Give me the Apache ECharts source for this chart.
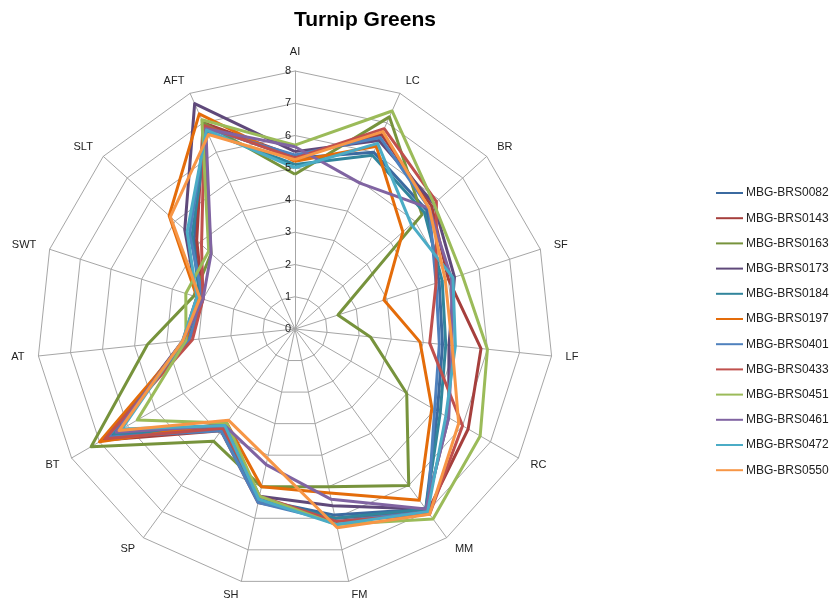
<!DOCTYPE html>
<html>
<head>
<meta charset="utf-8">
<script src="https://cdn.jsdelivr.net/npm/echarts@6/dist/echarts.min.js"></script>
<style>
  html, body { margin: 0; padding: 0; background: #fff; }
  #turnipRadar { width: 834px; height: 607px; }
</style>
</head>
<body>
<div id="turnipRadar"></div>
<script>
// traits, clockwise from the top
const traits = ['AI', 'LC', 'BR', 'SF', 'LF', 'RC', 'MM', 'FM', 'SH', 'SP', 'BT', 'AT', 'SWT', 'SLT', 'AFT'];
const ticks = [0, 1, 2, 3, 4, 5, 6, 7, 8];

const accessions = ['MBG-BRS0082', 'MBG-BRS0143', 'MBG-BRS0163', 'MBG-BRS0173', 'MBG-BRS0184', 'MBG-BRS0197',
  'MBG-BRS0401', 'MBG-BRS0433', 'MBG-BRS0451', 'MBG-BRS0461', 'MBG-BRS0472', 'MBG-BRS0550'];

// scores per accession, same order as traits
const brs0082 = [5.3, 6.0, 5.5, 4.7, 4.6, 5.1, 6.9, 5.9, 5.4, 3.8, 6.6, 3.4, 3.1, 4.2, 6.9];
const brs0143 = [5.35, 6.6, 5.7, 5.0, 5.8, 6.2, 7.0, 6.0, 5.5, 3.9, 6.9, 3.3, 3.0, 4.1, 7.0];
const brs0163 = [4.8, 7.2, 5.3, 1.4, 2.35, 4.0, 6.0, 5.0, 5.0, 4.3, 7.3, 4.6, 3.3, 3.5, 7.0];
const brs0173 = [5.5, 6.4, 5.8, 5.2, 4.8, 5.5, 6.9, 5.6, 5.3, 3.7, 6.6, 3.5, 3.2, 4.6, 7.65];
const brs0184 = [5.1, 5.9, 5.4, 4.8, 4.7, 5.2, 6.9, 6.0, 5.4, 3.8, 6.5, 3.4, 3.1, 4.3, 6.7];
const brs0197 = [5.2, 6.2, 4.5, 2.9, 3.9, 4.9, 6.56, 5.2, 5.0, 3.6, 7.0, 3.4, 3.2, 5.25, 7.3];
const brs0401 = [5.4, 6.5, 5.6, 4.6, 4.5, 5.0, 7.0, 6.1, 5.5, 3.9, 6.7, 3.3, 3.0, 4.4, 6.8];
const brs0433 = [5.3, 6.8, 5.9, 4.6, 4.2, 6.0, 7.1, 6.1, 5.3, 3.8, 6.8, 3.2, 3.0, 3.9, 6.9];
const brs0451 = [5.7, 7.4, 5.8, 5.45, 6.0, 6.63, 7.28, 6.2, 5.3, 3.6, 5.65, 3.4, 3.56, 3.6, 7.1];
const brs0461 = [5.65, 4.95, 5.6, 5.1, 4.9, 5.5, 6.9, 5.4, 4.3, 3.7, 6.4, 3.5, 3.0, 3.5, 6.8];
const brs0472 = [5.0, 6.3, 4.85, 5.15, 5.0, 5.4, 7.0, 6.2, 5.4, 3.7, 6.2, 3.5, 3.2, 4.5, 6.75];
const brs0550 = [5.25, 6.7, 5.6, 4.9, 4.9, 5.86, 7.1, 6.3, 4.1, 3.5, 6.3, 3.5, 3.1, 5.2, 6.6];

const scores = [brs0082, brs0143, brs0163, brs0173, brs0184, brs0197,
  brs0401, brs0433, brs0451, brs0461, brs0472, brs0550];
const colors = ['#3b6aa0', '#a63f3c', '#77933c', '#5f497a', '#31859c', '#e46c0a',
  '#4f81bd', '#c0504d', '#9bbb59', '#8064a2', '#4bacc6', '#f79646'];

// echarts lays indicators out counter-clockwise, so flip everything after the first one
const flip = arr => [arr[0]].concat(arr.slice(1).reverse());

const center = [295, 329];
const radius = 258;
const fontFamily = '"Liberation Sans", "DejaVu Sans", sans-serif';

let option = {
  backgroundColor: '#ffffff',
  color: colors,
  title: {
    text: 'Turnip Greens',
    left: 360,
    top: 5,
    textAlign: 'center',
    textStyle: {fontFamily: fontFamily, fontSize: 21, fontWeight: 'bold', color: '#000000'}
  },
  legend: {
    data: accessions,
    orient: 'vertical',
    left: 711,
    top: 181,
    itemGap: 11.2,
    itemWidth: 27,
    itemHeight: 2,
    icon: 'rect',
    textStyle: {fontFamily: fontFamily, fontSize: 12, color: '#222222', lineHeight: 14, padding: [0, 0, 0, -2]}
  },
  radar: {
    center: center,
    radius: radius,
    startAngle: 90,
    shape: 'polygon',
    splitNumber: 8,
    nameGap: 14,
    indicator: flip(traits).map(t => ({name: t, min: 0, max: 8})),
    axisName: {fontFamily: fontFamily, fontSize: 11, color: '#222222'},
    axisLine: {lineStyle: {color: '#a6a6a6', width: 1}},
    splitLine: {lineStyle: {color: '#a6a6a6', width: 1}},
    splitArea: {show: false}
  },
  polar: {center: center, radius: radius},
  angleAxis: {show: false, startAngle: 90, min: 0, max: 360},
  radiusAxis: {
    min: ticks[0],
    max: ticks[ticks.length - 1],
    interval: 1,
    axisLine: {show: false},
    axisTick: {show: false},
    splitLine: {show: false},
    axisLabel: {fontFamily: fontFamily, fontSize: 11, color: '#222222', margin: 4},
    z: 10
  },
  series: [{
    type: 'radar',
    symbol: 'none',
    lineStyle: {width: 3},
    data: accessions.map((name, i) => ({
      name: name,
      value: flip(scores[i]),
      lineStyle: {color: colors[i], width: 3},
      itemStyle: {color: colors[i]}
    }))
  }]
};

let chart = echarts.init(document.getElementById('turnipRadar'), null, {renderer: 'canvas'});
chart.setOption(option);
</script>
</body>
</html>
